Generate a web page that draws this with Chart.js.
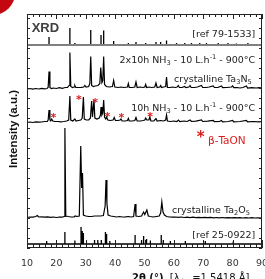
<!DOCTYPE html>
<html>
<head>
<meta charset="utf-8">
<script src="https://cdn.jsdelivr.net/npm/chart.js@4"></script>
<style>
  html, body { margin: 0; padding: 0; background: #fff; }
  #wrap { width: 265px; height: 279px; position: relative; }
</style>
</head>
<body>
<div id="wrap"><canvas id="xrdChart"></canvas></div>
<script>
/* ================= DATA ================= */
const xTickValues = [10, 20, 30, 40, 50, 60, 70, 80, 90];

// stacking baselines (arbitrary intensity units)
const BASE_REF_TA3N5 = 203;
const BASE_TA3N5 = 158.5;
const BASE_10H = 125;
const BASE_TA2O5 = 30;
const BASE_REF_TA2O5 = 4;

// [ref 79-1533] Ta3N5 sticks
const ref1Pos = [17.5, 24.6, 26.3, 31.7, 35.2, 36.1, 39.5, 44.5, 47.1, 50.4, 53.9, 55.5, 57.5, 60.9, 63.7, 66.0, 68.8, 71.1, 75.1, 78.4, 81.3, 85.2];
const ref1Height = [8, 17, 2, 15, 10, 14.5, 4, 2, 3, 2, 3, 3, 4.5, 2, 2, 2, 2, 2, 2, 2, 1.5, 2];

// [ref 25-0922] Ta2O5 sticks
const ref2Pos = [16.7, 22.9, 26.3, 28.4, 28.8, 29.2, 33.0, 34.1, 35.3, 36.7, 37.1, 38.2, 46.8, 49.0, 49.7, 50.7, 52.0, 55.7, 56.4, 58.8, 63.9, 70.7, 80.2];
const ref2Height = [3, 12, 3.5, 17, 13, 11, 4, 4, 4, 12, 10, 3, 9, 4, 8, 5, 3.5, 9, 4, 3, 3, 3, 2.5];

// 2x10h NH3 - crystalline Ta3N5 [2theta, intensity above baseline]
const ta3n5Trace = [
  [10,0.5],[11,1],[12,0.3],[13,1],[14,0.5],[15,1.2],[16,0.6],[16.8,1],[17.2,2],[17.5,18],[17.8,2],[18.3,1],
  [19,1.5],[20,1],[21,1.8],[22,1.2],[23,2],[23.8,2],[24.3,4],[24.6,37],[24.9,3],[25.5,2],[26,2.5],[26.3,4],
  [26.6,2],[27.5,2],[28.5,2.2],[29.3,2.5],[29.7,4],[30.1,2.5],[31,3],[31.4,6],[31.7,33],[32,4],[32.6,3],
  [33.2,3.5],[34.2,4],[34.8,6],[35.1,22],[35.5,7],[35.8,9],[36.1,33],[36.4,5],[37,3],[38,2.5],[39.1,3],
  [39.5,9],[39.9,2.5],[41,2],[42,2.5],[43,2],[44.2,2.5],[44.5,6],[44.8,2],[45.8,2],[46.7,2.5],[47.1,7.5],
  [47.5,2],[48.5,2.5],[49.5,2],[50.1,2.5],[50.4,5],[50.7,2],[51.5,2.5],[52.5,2],[53.5,2.5],[53.9,6.5],
  [54.3,2],[55.2,2.5],[55.5,4],[55.8,2],[56.5,2.5],[57.2,3],[57.5,12.5],[57.8,2],[58.7,2],[59.5,2.5],
  [60.5,2],[61.1,2.5],[61.5,4],[61.9,2],[62.8,2],[63.6,3],[64.1,2],[65.1,2.5],[65.5,4],[65.9,2],[67,2],
  [68,2.5],[69.4,4],[69.8,2],[71,2],[72,2.5],[73.4,3.5],[73.8,2],[75,2],[76.2,3.5],[76.6,1.8],[78,2],
  [79.6,2.5],[80,3.5],[80.4,1.8],[81.5,2],[82.5,1.5],[83.5,2],[84.7,3.5],[85.1,1.5],[86.5,1.8],[88,1.5],
  [89,1.8],[90,1.5]
];

// 10h NH3 - Ta3N5 + beta-TaON
const tonTrace = [
  [10,0.5],[11,1],[12,0.5],[13,1.2],[14,0.8],[15,1],[16,1.5],[16.9,1.5],[17.2,3],[17.5,13],[17.8,3],[18.1,2],
  [18.4,4],[18.8,2],[19.5,1.5],[20.5,1.5],[21.5,1.2],[22.5,1.5],[23.5,2],[24.2,3],[24.6,27],[24.9,3],
  [25.6,2],[26.3,4],[26.7,2],[27.5,2.5],[28.3,3],[28.8,5],[29.2,26],[29.5,4],[30.2,3],[31,3],[31.6,5],
  [32,22],[32.3,6],[32.8,23],[33.1,5],[33.8,4],[34.6,5],[35,8],[35.2,16],[35.5,8],[35.8,10],[36.1,23],
  [36.4,6],[36.8,4],[37.1,6],[37.5,3],[38.3,2.5],[39.3,3],[39.7,5.5],[40.1,2.5],[41,2.5],[41.7,3],[42,4],
  [42.4,2],[43.4,2],[44.2,2.5],[44.5,4.5],[44.8,2],[45.8,2],[46.7,2.5],[47.1,5.5],[47.5,2],[48.5,2],
  [49.6,2.5],[50.1,3],[50.4,5],[50.8,3],[51.5,3],[51.8,6],[52.2,2],[53.2,2],[53.9,4.5],[54.3,2],[55.5,2.5],
  [56.5,2],[57.2,3],[57.5,8],[57.8,2],[58.8,1.5],[60,2],[61,1.5],[61.6,3],[62,1.5],[63.5,2],[64.5,1.5],
  [65.5,3],[66,1.5],[67.5,1.8],[69.4,3],[69.8,1.5],[71.5,1.8],[73.4,2.5],[73.8,1.3],[75.5,1.5],[76.2,2.5],
  [76.6,1.2],[78.5,1.5],[80,2.5],[80.4,1.2],[82.5,1.5],[84.7,2.5],[85.1,1.2],[87,1.5],[89,1.2],[90,1.5]
];

// beta-TaON markers on the 10h trace [2theta, height above baseline]
const tonMarkPos = [19.0, 27.7, 33.2, 37.4, 42.1, 51.9];
const tonMarkHeight = [7, 24.5, 22.3, 7.5, 6.5, 7.5];

// crystalline Ta2O5
const ta2o5Trace = [
  [10,0.5],[11,1],[12,0.8],[13,1.5],[13.5,2.5],[14,1],[15,1.2],[16,0.8],[17,1.2],[18,0.6],[19,1],[20,0.5],
  [21,1],[22,0.8],[22.6,1.5],[22.9,90],[23.2,2],[24,1.5],[25,1],[26,1.2],[26.4,2],[27,1.5],[27.8,2],
  [28.3,72],[28.6,30],[28.9,45],[29.2,3],[30,2],[31,1.5],[32,1.5],[33,2],[34,2],[35,2],[36,2.5],[36.6,12],
  [36.9,38],[37.2,15],[37.6,3],[38.5,2],[39.5,1.5],[40.5,1],[41.5,1.5],[42.5,1],[43.5,1.2],[44.5,1.5],
  [45.5,1],[46.3,1.5],[46.8,14],[47.1,2],[48,1.5],[49,2],[49.7,6],[50.1,3.5],[50.8,8],[51.3,2],[52,1.5],
  [53,1],[54,1.5],[55,2],[55.5,5],[55.9,16],[56.3,6],[56.8,3],[57.5,1.5],[58.5,1],[59.5,0.8],[60.5,1],
  [61.5,0.6],[62.5,1],[63.5,0.5],[64.5,0.8],[65.5,0.4],[66.5,0.8],[67.5,0.4],[68.5,0.6],[69.5,0.3],
  [70.5,0.7],[71.5,0.3],[72.5,0.6],[73.5,0.2],[74.5,0.5],[75.5,0.2],[76.5,0.5],[77.5,0.2],[78.5,0.4],
  [79.5,0.1],[80.5,0.4],[81.5,0.1],[82.5,0.3],[83.5,0],[84.5,0.3],[85.5,0],[86.5,0.3],[87.5,0],[88.5,0.2],[90,0]
];

/* ================= STYLE ================= */
const RED = "#d81e1e";
const FONT = '"DejaVu Sans", sans-serif';

// text labels [2theta, y, right aligned]
const panelLabels = [
  { x: 87.7, y: 215, parts: [["[ref 79-1533]"]] },
  { x: 87.7, y: 189, parts: [["2x10h NH"], ["3", "sub"], [" - 10 L.h"], ["-1", "sup"], [" - 900°C"]] },
  { x: 86.5, y: 170, parts: [["crystalline Ta"], ["3", "sub"], ["N"], ["5", "sub"]] },
  { x: 87.7, y: 141, parts: [["10h NH"], ["3", "sub"], [" - 10 L.h"], ["-1", "sup"], [" - 900°C"]] },
  { x: 85.9, y: 39, parts: [["crystalline Ta"], ["2", "sub"], ["O"], ["5", "sub"]] },
  { x: 87.7, y: 14, parts: [["[ref 25-0922]"]] }
];

/* ================= HELPERS ================= */
function sticks(pos, h, base) {
  const pts = [];
  pos.forEach((p, i) => {
    pts.push({ x: p, y: base }, { x: p, y: base + h[i] }, { x: p, y: null });
  });
  return pts;
}

function trace(arr, base) {
  return arr.map(([x, y]) => ({ x: x, y: y + base }));
}

function richText(ctx, parts, x, y, align, size, color) {
  const fontFor = (mode) => {
    if (mode === "bold") return `bold ${size}px ${FONT}`;
    if (mode === "sub" || mode === "sup") return `${size * 0.7}px ${FONT}`;
    return `${size}px ${FONT}`;
  };
  let total = 0;
  parts.forEach(([t, m]) => { ctx.font = fontFor(m); total += ctx.measureText(t).width; });
  let cx = align === "right" ? x - total : x;
  ctx.fillStyle = color;
  ctx.textAlign = "left";
  ctx.textBaseline = "alphabetic";
  parts.forEach(([t, m]) => {
    ctx.font = fontFor(m);
    let dy = 0;
    if (m === "sub") dy = size * 0.25;
    if (m === "sup") dy = -size * 0.4;
    ctx.fillText(t, cx, y + dy);
    cx += ctx.measureText(t).width;
  });
}

/* ================= DECORATION PLUGIN ================= */
const decorPlugin = {
  id: "decor",
  afterDatasetsDraw(chart) {
    const { ctx, chartArea: { left, right, top, bottom }, scales: { x, y } } = chart;
    ctx.save();

    // frame
    ctx.strokeStyle = "#222";
    ctx.lineWidth = 1;
    ctx.strokeRect(left + 0.5, top + 0.5, right - left - 1, bottom - top - 1);

    // inward ticks
    ctx.beginPath();
    for (let v = 10; v <= 90; v += 2) {
      const px = Math.round(x.getPixelForValue(v)) + 0.5;
      const major = v % 10 === 0;
      ctx.moveTo(px, bottom); ctx.lineTo(px, bottom - (major ? 8 : 4));
      ctx.moveTo(px, top); ctx.lineTo(px, top + (major ? 5 : 3));
    }
    for (let v = 0; v <= 230; v += 10) {
      const py = Math.round(y.getPixelForValue(v)) + 0.5;
      ctx.moveTo(left, py); ctx.lineTo(left + 3, py);
      ctx.moveTo(right, py); ctx.lineTo(right - 3, py);
    }
    ctx.stroke();

    // panel labels
    panelLabels.forEach(l => {
      richText(ctx, l.parts, x.getPixelForValue(l.x), y.getPixelForValue(l.y) + 3.5, "right", 9.5, "#222");
    });

    // XRD tag
    ctx.font = 'bold 13px "Liberation Sans", sans-serif';
    ctx.fillStyle = "#404040";
    ctx.textAlign = "left";
    ctx.textBaseline = "alphabetic";
    ctx.fillText("XRD", x.getPixelForValue(11.6), y.getPixelForValue(216.5));

    // beta-TaON markers
    ctx.fillStyle = RED;
    ctx.font = `bold 11px ${FONT}`;
    ctx.textAlign = "center";
    ctx.textBaseline = "middle";
    tonMarkPos.forEach((p, i) => {
      ctx.fillText("*", x.getPixelForValue(p), y.getPixelForValue(BASE_10H + tonMarkHeight[i]) + 2);
    });

    // legend
    ctx.font = `bold 15px ${FONT}`;
    ctx.fillText("*", x.getPixelForValue(69.1), y.getPixelForValue(113) + 3);
    ctx.font = `10.5px ${FONT}`;
    ctx.textAlign = "left";
    ctx.fillText("β-TaON", x.getPixelForValue(71.6), y.getPixelForValue(106.5));

    // axis titles
    ctx.save();
    ctx.translate(14, 129);
    ctx.rotate(-Math.PI / 2);
    ctx.font = 'bold 11.5px "Liberation Sans", sans-serif';
    ctx.fillStyle = "#111";
    ctx.textAlign = "center";
    ctx.fillText("Intensity (a.u.)", 0, 0);
    ctx.restore();

    richText(ctx, [["2θ (°)", "bold"], ["  [λ"], ["Cu", "sub"], [" =1.5418 Å]"]], 132, 281, "left", 10, "#111");

    // red badge in the corner
    ctx.beginPath();
    ctx.arc(-7, -7, 22, 0, Math.PI * 2);
    ctx.fillStyle = "#c40812";
    ctx.fill();

    ctx.restore();
  }
};

/* ================= CHART ================= */
const lineStyle = { borderColor: "#000", borderWidth: 1.2, pointRadius: 0, tension: 0, spanGaps: false };

new Chart(document.getElementById("xrdChart"), {
  type: "line",
  data: {
    datasets: [
      { ...lineStyle, data: [{ x: 10, y: BASE_REF_TA3N5 }, { x: 90, y: BASE_REF_TA3N5 }], borderColor: "#808080", borderWidth: 2 },
      { ...lineStyle, data: sticks(ref1Pos, ref1Height, BASE_REF_TA3N5), borderWidth: 1.3 },
      { ...lineStyle, data: trace(ta3n5Trace, BASE_TA3N5) },
      { ...lineStyle, data: trace(tonTrace, BASE_10H) },
      { ...lineStyle, data: trace(ta2o5Trace, BASE_TA2O5) },
      { ...lineStyle, data: [{ x: 10, y: BASE_REF_TA2O5 }, { x: 90, y: BASE_REF_TA2O5 }], borderWidth: 1.5 },
      { ...lineStyle, data: sticks(ref2Pos, ref2Height, BASE_REF_TA2O5), borderWidth: 1.3 }
    ]
  },
  options: {
    responsive: true,
    maintainAspectRatio: false,
    animation: false,
    devicePixelRatio: 1,
    layout: { padding: { left: 27, right: 3, top: 14, bottom: 11 } },
    plugins: { legend: { display: false }, tooltip: { enabled: false } },
    scales: {
      x: {
        type: "linear",
        min: 10,
        max: 90,
        grid: { display: false },
        border: { display: false },
        afterBuildTicks: (s) => { s.ticks = xTickValues.map(v => ({ value: v })); },
        afterFit: (s) => { s.paddingLeft = 0; s.paddingRight = 0; s.height = 20; },
        ticks: {
          autoSkip: false,
          maxRotation: 0,
          padding: 2,
          color: "#333",
          font: { family: "DejaVu Sans", size: 9.5 }
        }
      },
      y: {
        display: false,
        min: 0,
        max: 234
      }
    }
  },
  plugins: [decorPlugin]
});
</script>
</body>
</html>
